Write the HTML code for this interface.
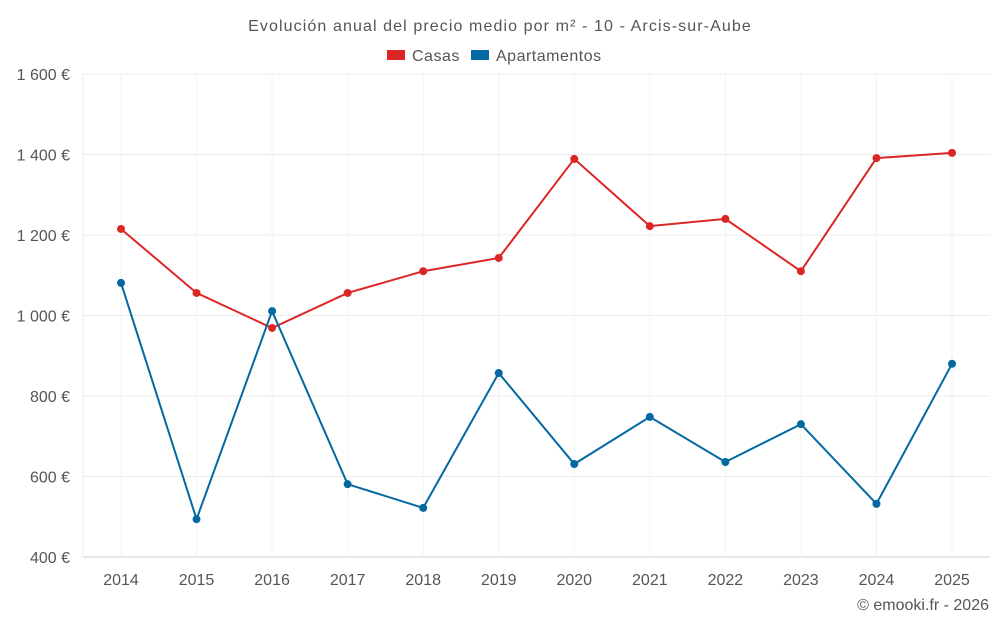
<!DOCTYPE html>
<html><head><meta charset="utf-8"><style>
body{margin:0;background:#fff;font-family:"Liberation Sans",sans-serif;}
svg text{font-family:"Liberation Sans",sans-serif;fill:#555;}
</style></head><body>
<svg id="chart" width="1000" height="625">
<text x="500" y="31" text-anchor="middle" font-size="16" letter-spacing="1.1">Evolución anual del precio medio por m² - 10 - Arcis-sur-Aube</text>
<g>
<g><rect x="387" y="50" width="18" height="10" fill="#dc2626"/><text x="412" y="61" font-size="16" letter-spacing="0.5">Casas</text></g>
<g><rect x="471" y="50" width="18" height="10" fill="#0369a1"/><text x="496" y="61" font-size="16" letter-spacing="0.5">Apartamentos</text></g>
</g>
<g id="grid"></g><g id="axes"></g><g id="series"></g>
<text x="989" y="610" text-anchor="end" font-size="16">© emooki.fr - 2026</text>
</svg>
<script>
const years=[2014,2015,2016,2017,2018,2019,2020,2021,2022,2023,2024,2025];
const casas=[1215,1056,969,1056,1110,1143,1389,1222,1240,1110,1391,1404];
const apartamentos=[1081,494,1011,581,522,857,631,748,636,730,532,880];
const yTicks=[400,600,800,1000,1200,1400,1600];
const yTickLabels=["400 €","600 €","800 €","1 000 €","1 200 €","1 400 €","1 600 €"];
const L=83,R=990,T=74,B=557,ns="http://www.w3.org/2000/svg";
const x=i=>121+i*(952-121)/(years.length-1);
const y=v=>B-(v-400)/(1600-400)*(B-T);
function mk(p,t,a){const e=document.createElementNS(ns,t);for(const k in a)e.setAttribute(k,a[k]);p.appendChild(e);return e;}
const g=document.getElementById('grid'),ax=document.getElementById('axes'),s=document.getElementById('series');
yTicks.forEach((v,i)=>{
const l=mk(g,'line',{x1:L,x2:R,y1:y(v),y2:y(v),stroke:i==0?'#ccc':'#ebebeb'});


const t=mk(ax,'text',{x:70,y:y(v)+6,'text-anchor':'end','font-size':16});t.textContent=yTickLabels[i];


});
mk(g,'line',{x1:L,x2:L,y1:T,y2:B,stroke:'#ebebeb'});
years.forEach((yr,i)=>{
const l=mk(g,'line',{x1:x(i),x2:x(i),y1:T,y2:B,stroke:'#f2f2f2'});


const t=mk(ax,'text',{x:x(i),y:585,'text-anchor':'middle','font-size':16});t.textContent=yr;


});
[[casas,'#dc2626','casas'],[apartamentos,'#0369a1','apartamentos']].forEach(([d,c,n])=>{
const p=mk(s,'polyline',{points:d.map((v,i)=>x(i)+','+y(v)).join(' '),fill:'none',stroke:c,'stroke-width':2});


d.forEach((v,i)=>{const pt=mk(s,'circle',{cx:x(i),cy:y(v),r:4,fill:c});

});
});
</script>
</body></html>
